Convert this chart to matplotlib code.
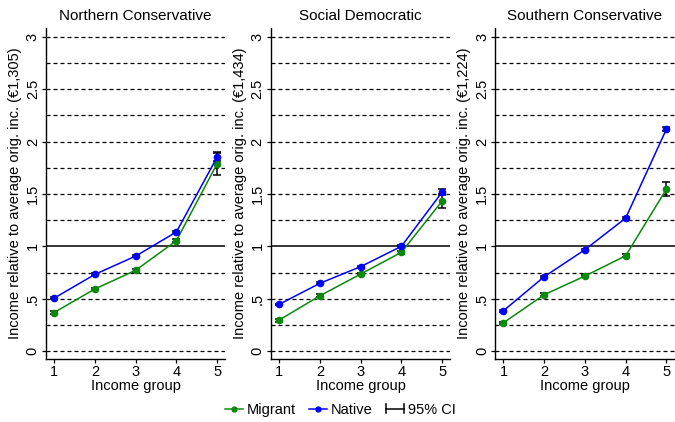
import matplotlib
matplotlib.use("Agg")
import matplotlib.pyplot as plt
from matplotlib.lines import Line2D
from matplotlib.legend_handler import HandlerBase

plt.rcParams['font.family'] = ['Liberation Sans', 'DejaVu Sans']

# Income groups (quintiles) and welfare regimes
groups = [1, 2, 3, 4, 5]
regimes = ["Northern Conservative", "Social Democratic", "Southern Conservative"]
avg_income = ["€1,305", "€1,434", "€1,224"]

# Mean income relative to average original income
native_nc = [0.505, 0.732, 0.907, 1.137, 1.853]
migrant_nc = [0.368, 0.593, 0.771, 1.054, 1.790]
native_sd = [0.446, 0.647, 0.806, 1.000, 1.518]
migrant_sd = [0.296, 0.528, 0.735, 0.943, 1.433]
native_sc = [0.385, 0.710, 0.968, 1.270, 2.120]
migrant_sc = [0.270, 0.538, 0.716, 0.910, 1.547]

# Half-widths of the 95% confidence intervals
native_nc_ci = [0.010, 0.010, 0.010, 0.012, 0.040]
migrant_nc_ci = [0.014, 0.012, 0.014, 0.014, 0.110]
native_sd_ci = [0.008, 0.008, 0.010, 0.010, 0.030]
migrant_sd_ci = [0.014, 0.012, 0.012, 0.014, 0.065]
native_sc_ci = [0.008, 0.008, 0.010, 0.010, 0.020]
migrant_sc_ci = [0.012, 0.012, 0.012, 0.014, 0.065]

native = [native_nc, native_sd, native_sc]
migrant = [migrant_nc, migrant_sd, migrant_sc]
native_ci = [native_nc_ci, native_sd_ci, native_sc_ci]
migrant_ci = [migrant_nc_ci, migrant_sd_ci, migrant_sc_ci]

ytick_vals = [0, 0.5, 1, 1.5, 2, 2.5, 3]
ytick_labels = ["0", ".5", "1", "1.5", "2", "2.5", "3"]
grid_vals = [0, 0.25, 0.5, 0.75, 1.25, 1.5, 1.75, 2, 2.25, 2.5, 2.75, 3]

GREEN = "#0a8a0a"
BLUE = "#0000ff"

W, H = 675, 422
fig = plt.figure(figsize=(W / 100, H / 100), dpi=100)

lefts = [46, 271, 495.3]
aw, ab, ah = 179.3, 63, 331

for i in range(3):
    ax = fig.add_axes([lefts[i] / W, ab / H, aw / W, ah / H])
    ax.set_xlim(0.8, 5.2)
    ax.set_ylim(-0.076, 3.085)
    for g in grid_vals:
        ax.axhline(g, color="black", lw=0.9, ls=(0, (3.2, 2.4)), zorder=1)
    ax.axhline(1, color="black", lw=1.1, zorder=1)

    ax.errorbar(groups, migrant[i], yerr=migrant_ci[i], color=GREEN, lw=1.1,
                marker="o", ms=4.5, ecolor="black", elinewidth=1.1, capsize=3.2,
                capthick=1.1, zorder=3)
    ax.errorbar(groups, native[i], yerr=native_ci[i], color=BLUE, lw=1.1,
                marker="o", ms=4.5, ecolor="black", elinewidth=1.1, capsize=3.2,
                capthick=1.1, zorder=3)

    for s in ["top", "right"]:
        ax.spines[s].set_visible(False)
    for s in ["left", "bottom"]:
        ax.spines[s].set_linewidth(1.0)
    ax.set_xticks(groups)
    ax.set_xticklabels([str(g) for g in groups], fontsize=10.5)
    ax.set_yticks(ytick_vals)
    ax.set_yticklabels(ytick_labels, fontsize=10.5, rotation=90, va="center")
    ax.tick_params(axis="both", length=3, width=0.9, pad=1.5)
    ax.set_xlabel("Income group", fontsize=10.5, labelpad=0)
    ax.set_ylabel("Income relative to average orig. inc. (" + avg_income[i] + ")",
                  fontsize=10.5, labelpad=3)
    ax.set_title(regimes[i], fontsize=11, pad=6)


class CIHandler(HandlerBase):
    def create_artists(self, legend, orig_handle, xdescent, ydescent,
                       width, height, fontsize, trans):
        y = height / 2 - ydescent
        x0, x1 = -xdescent, -xdescent + width
        c = height * 0.45
        arts = [
            Line2D([x0, x1], [y, y], color="black", lw=1.1),
            Line2D([x0, x0], [y - c, y + c], color="black", lw=1.1),
            Line2D([x1, x1], [y - c, y + c], color="black", lw=1.1),
        ]
        for a in arts:
            a.set_transform(trans)
        return arts


h_mig = Line2D([], [], color=GREEN, lw=1.1, marker="o", ms=3.5)
h_nat = Line2D([], [], color=BLUE, lw=1.1, marker="o", ms=3.5)
h_ci = Line2D([], [], color="black")
fig.legend([h_mig, h_nat, h_ci], ["Migrant", "Native", "95% CI"],
           handler_map={h_ci: CIHandler()},
           loc="center", bbox_to_anchor=(340.5 / W, 1 - 410 / H), ncol=3,
           frameon=False, fontsize=10.5, handlelength=1.2, handletextpad=0.3,
           columnspacing=0.9, borderpad=0.2)

fig.savefig("out.png", dpi=100)
